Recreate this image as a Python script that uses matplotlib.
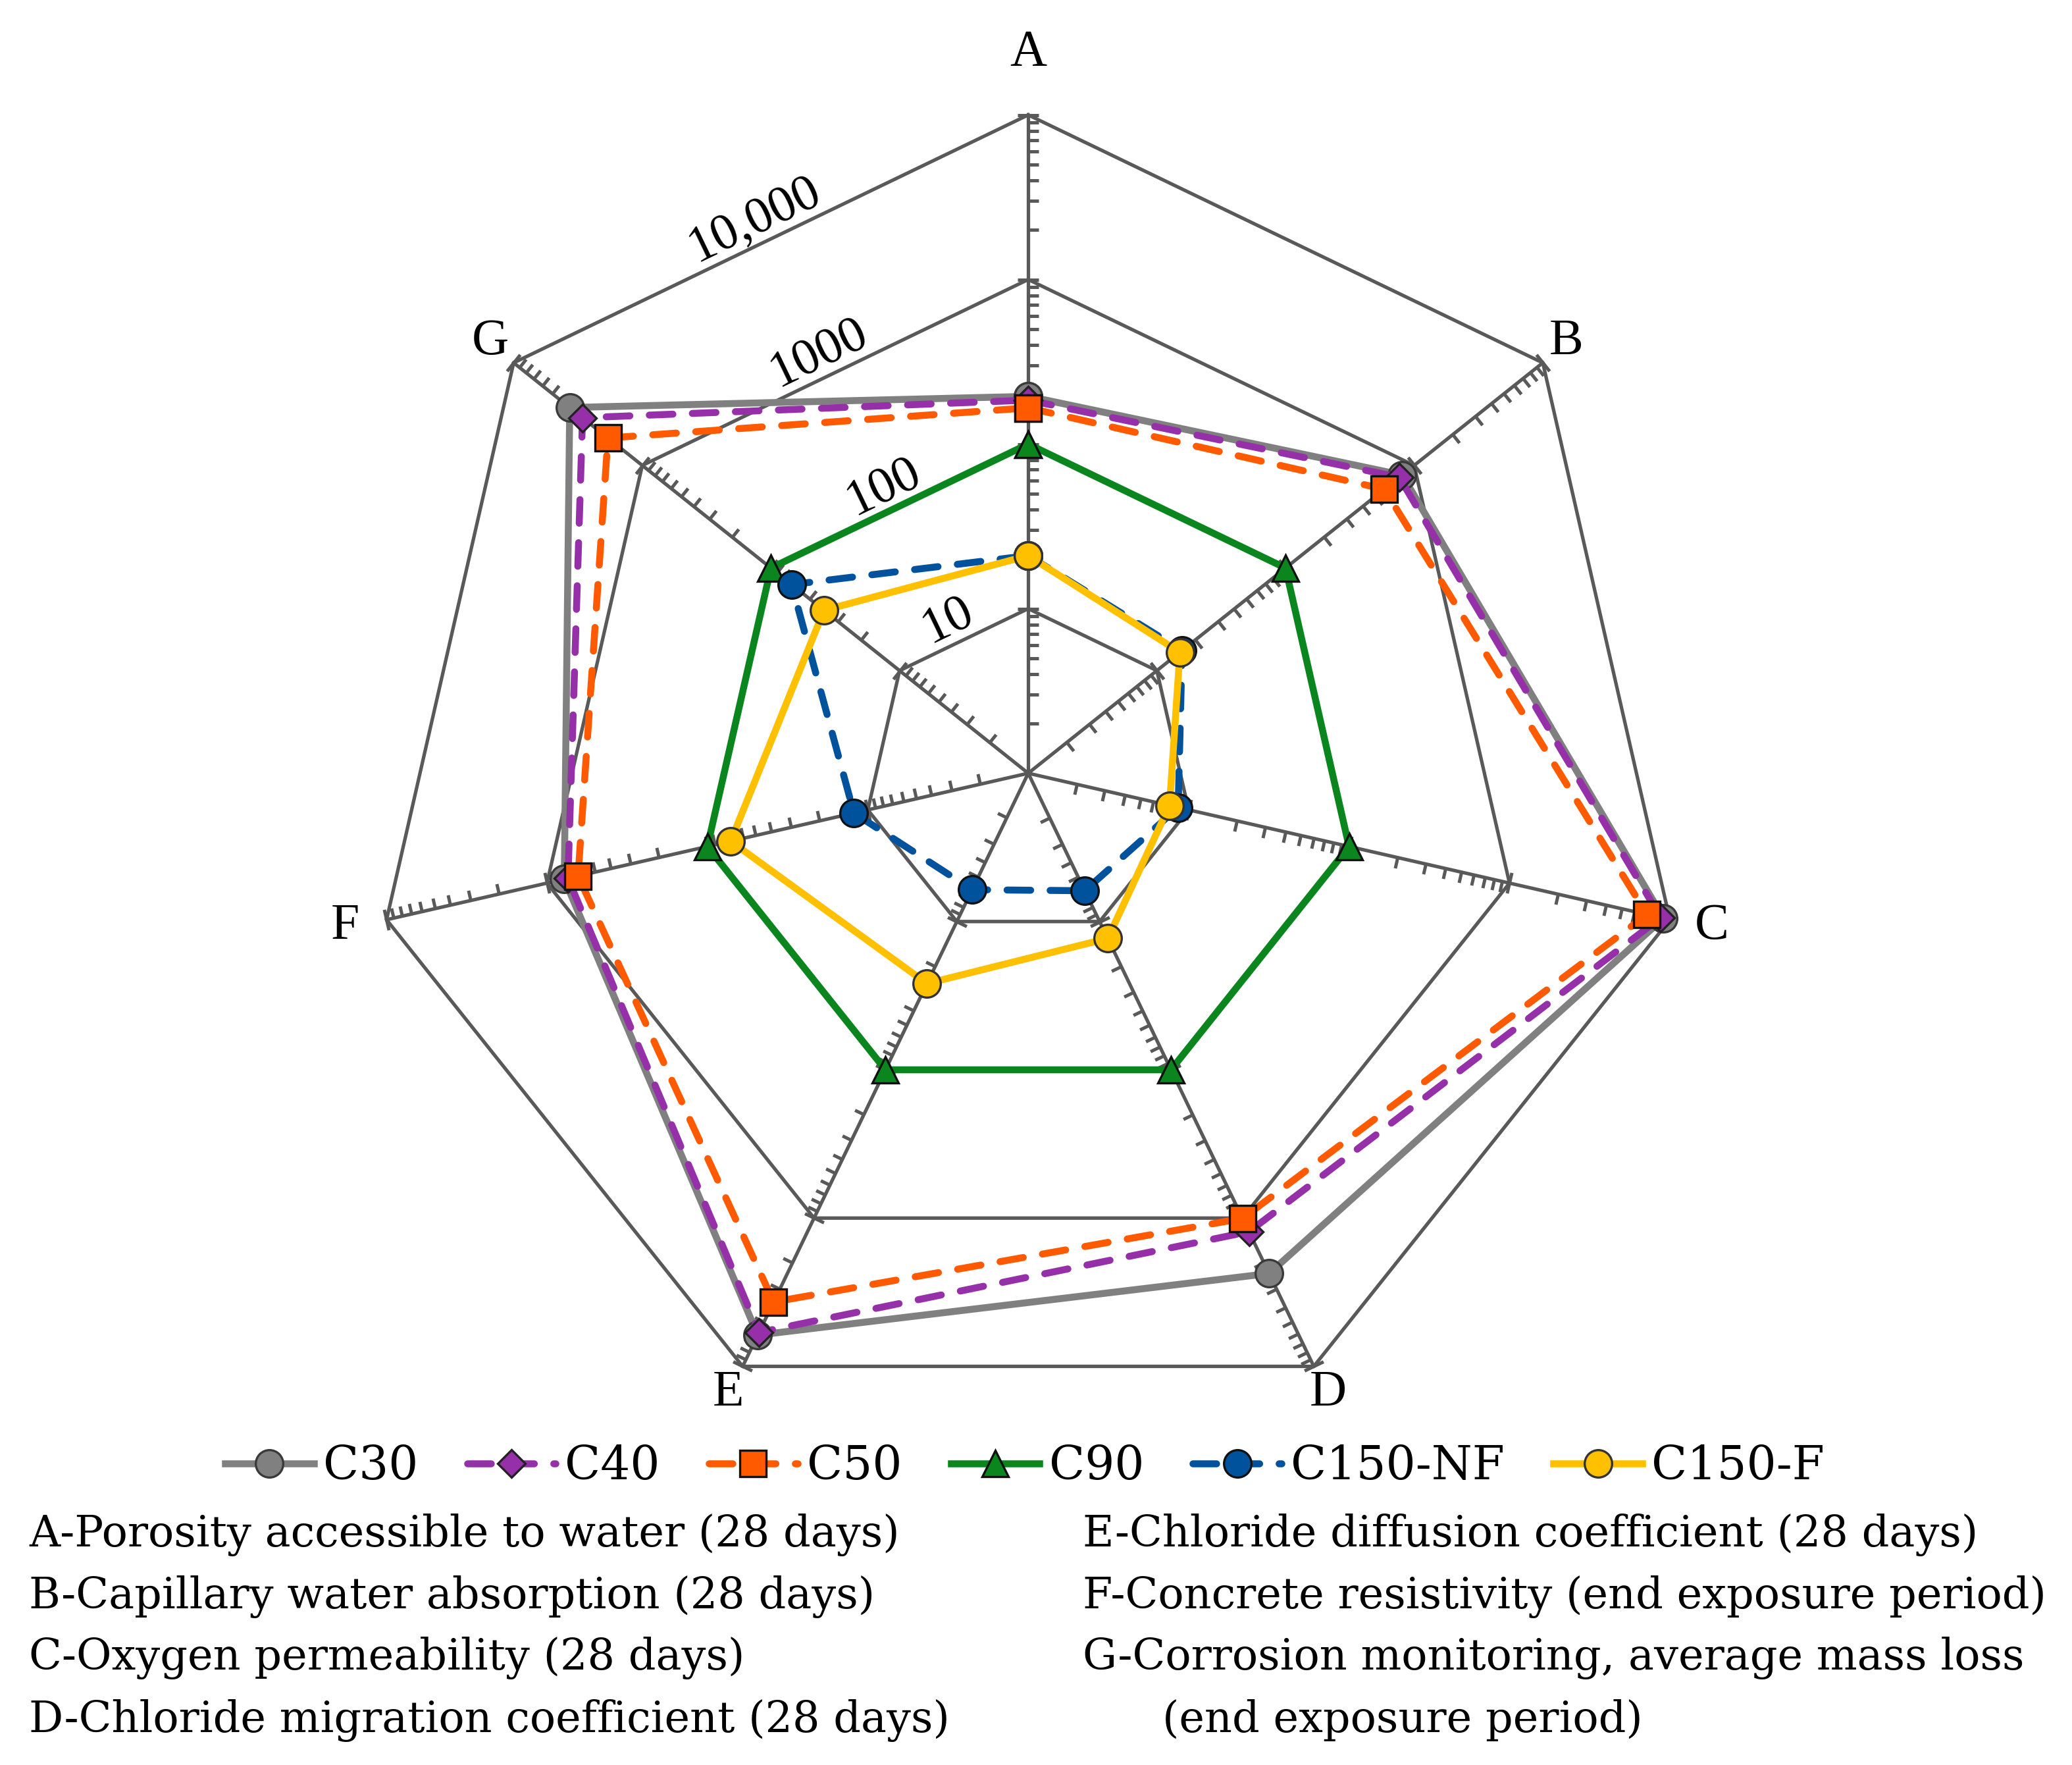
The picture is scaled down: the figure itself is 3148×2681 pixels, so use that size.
import numpy as np
import matplotlib
matplotlib.use('Agg')
import matplotlib.pyplot as plt
from matplotlib.markers import MarkerStyle
from matplotlib.path import Path
from matplotlib.transforms import Affine2D
from matplotlib.ticker import NullLocator

# data (normalised to C90 = 100, log radial scale 1..10,000)
axis_names = ['A', 'B', 'C', 'D', 'E', 'F', 'G']
series_names = ['C30', 'C40', 'C50', 'C90', 'C150-NF', 'C150-F']
c30 = [195, 806, 9130, 2365, 6150, 780, 3665]
c40 = [185, 766, 8770, 1236, 5900, 740, 2914]
c50 = [166, 586, 7210, 1005, 3680, 640, 1850]
c90 = [100, 100, 100, 100, 100, 100, 100]
c150_nf = [21, 15.7, 8.6, 6.2, 6.1, 12.2, 69]
c150_f = [21, 15.1, 7.6, 13.0, 26.2, 71.6, 38.7]
ring_values = [10, 100, 1000, 10000]
ring_labels = ['10', '100', '1000', '10,000']

notes_left = ['A-Porosity accessible to water (28 days)',
              'B-Capillary water absorption (28 days)',
              'C-Oxygen permeability (28 days)',
              'D-Chloride migration coefficient (28 days)']
notes_right = ['E-Chloride diffusion coefficient (28 days)',
               'F-Concrete resistivity (end exposure period)',
               'G-Corrosion monitoring, average mass loss',
               '(end exposure period)']

plt.rcParams['font.family'] = ['Liberation Serif', 'DejaVu Serif']
note_font = ['DejaVu Serif']
grid_col = '#595959'

fig = plt.figure(figsize=(15.74, 13.405), dpi=200)
ax = fig.add_axes([0.1786, 0.1889, 0.6353, 0.746], projection='polar')
ax.set_theta_zero_location('N')
ax.set_theta_direction(-1)
ax.set_rscale('log')
ax.set_rlim(1, 10000)
ax.grid(False)
for a in (ax.xaxis, ax.yaxis):
    a.set_major_locator(NullLocator())
    a.set_minor_locator(NullLocator())
ax.spines['polar'].set_visible(False)
ax.patch.set_visible(False)

n = len(axis_names)
theta = np.arange(n) * 2 * np.pi / n
theta_c = np.append(theta, theta[0])

# rings and spokes
for rv in ring_values:
    ax.plot(theta_c, [rv] * (n + 1), color=grid_col, lw=1.9, clip_on=False, zorder=1)
for th in theta:
    ax.plot([th, th], [1, ring_values[-1]], color=grid_col, lw=1.9, clip_on=False, zorder=1)

# log tick marks on each spoke (clockwise side)
minor_vals = [m * 10 ** k for k in range(4) for m in range(2, 10)]
for i, th in enumerate(theta):
    rot = Affine2D().rotate_deg(-i * 360 / n)
    mk_minor = MarkerStyle(Path([(0, 0), (1, 0)]), transform=rot)
    mk_major = MarkerStyle(Path([(-1, 0), (1, 0)]), transform=rot)
    ax.plot([th] * len(minor_vals), minor_vals, ls='none', marker=mk_minor, ms=11.5,
            mec=grid_col, mfc='none', mew=1.8, clip_on=False, zorder=1)
    ax.plot([th] * len(ring_values), ring_values, ls='none', marker=mk_major, ms=11.5,
            mec=grid_col, mfc='none', mew=1.8, clip_on=False, zorder=1)

# ring value labels along the G-A edge
th_mid = (theta[-1] + 2 * np.pi) / 2
for rv, lbl in zip(ring_values, ring_labels):
    r_mid = 10 ** (np.log10(rv) * np.cos(np.pi / n))
    ax.annotate(lbl, xy=(th_mid, r_mid), xytext=(-9.0, 10.5), textcoords='offset points',
                rotation=180 / n, rotation_mode='anchor', ha='center', va='center',
                fontsize=28, annotation_clip=False)

# axis letters
label_r = [1.09, 1.045, 1.065, 1.05, 1.05, 1.065, 1.045]
for th, name, f in zip(theta, axis_names, label_r):
    ax.annotate(name, xy=(th, 10 ** (4 * f)), xytext=(0, 4.5), textcoords='offset points',
                ha='center', va='center_baseline', fontsize=28, annotation_clip=False)

# series
dash = (3.4, 2.8)
styles = [
    dict(color='#808080', ls='-', marker='o', ms=15, mfc='#808080', mec='#3a3a3a'),
    dict(color='#9530a8', ls=(0, dash), marker='D', ms=10.5, mfc='#9530a8', mec='#222222'),
    dict(color='#ff5a00', ls=(0, dash), marker='s', ms=14.5, mfc='#ff5a00', mec='#111111'),
    dict(color='#0b861f', ls='-', marker='^', ms=14.5, mfc='#0b861f', mec='#111111'),
    dict(color='#00529c', ls=(0, dash), marker='o', ms=15, mfc='#00529c', mec='#111111'),
    dict(color='#ffc000', ls='-', marker='o', ms=15, mfc='#ffc000', mec='#333333'),
]
handles = []
for name, vals, st in zip(series_names, [c30, c40, c50, c90, c150_nf, c150_f], styles):
    h, = ax.plot(theta_c, list(vals) + [vals[0]], lw=3.8, mew=1.2, label=name,
                 dash_capstyle='round', clip_on=False, zorder=3, **st)
    handles.append(h)

fig.legend(handles=handles, loc='center', bbox_to_anchor=(0.4946, 0.169), ncol=6,
           frameon=False, prop={'family': note_font, 'size': 25.5}, handlelength=1.9,
           handletextpad=0.2, columnspacing=1.05, borderpad=0)

# explanatory notes
ys = [0.124, 0.0886, 0.0539, 0.0188]
for y, t in zip(ys, notes_left):
    fig.text(0.014, y, t, fontsize=23.5, family=note_font, va='baseline', ha='left')
for k, (y, t) in enumerate(zip(ys, notes_right)):
    fig.text(0.561 if k == 3 else 0.5225, y, t, fontsize=23.5, family=note_font,
             va='baseline', ha='left')

fig.savefig('out.png', dpi=200)
